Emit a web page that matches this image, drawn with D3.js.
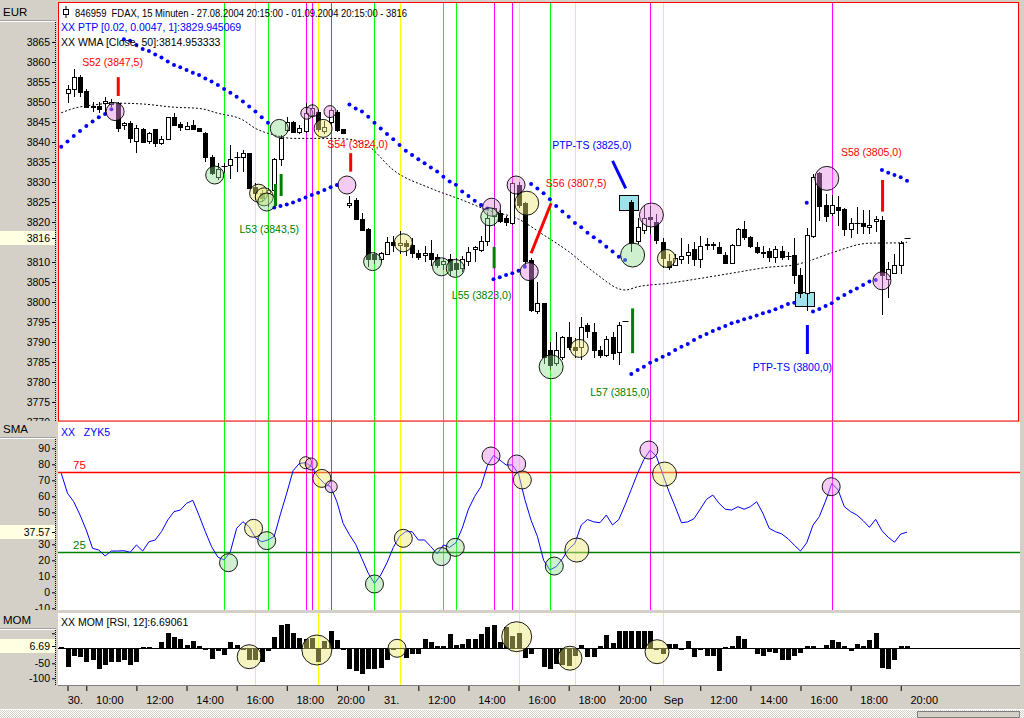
<!DOCTYPE html>
<html><head><meta charset="utf-8">
<script src="https://cdn.jsdelivr.net/npm/d3@7/dist/d3.min.js"></script>
<style>
html,body{margin:0;padding:0;background:#d4d0c8;overflow:hidden}
svg{display:block;font-family:"Liberation Sans",Arial,sans-serif;font-size:10.5px}
text{white-space:pre}
</style></head><body>
<svg id="chart" width="1024" height="718"></svg>
<script>
// ================= DATA =================
// 15-minute FDAX bars, index 0..134
const openP = [3852.2,3853.2,3856.2,3852.75,3849,3849,3849.7,3849.5,3849.7,3844.2,
3844.7,3840.25,3843.25,3840.1,3843.2,3839.7,3840.7,3846.2,3844.4,3843.25,
3844.25,3843.4,3842.2,3836.3,3831.2,3833.8,3834.25,3836,3836.2,3837.2,
3828.8,3827.2,3827.2,3828,3835.8,3843,3845.1,3842.3,3842.6,3846.75,
3847.6,3842.75,3845.1,3847.6,3843.25,3824.1,3825.5,3820.75,3818.25,3812,
3810.7,3812.2,3815.1,3814.25,3814.8,3814.25,3812.3,3811.7,3812.3,3811.3,
3809.5,3810.7,3809.7,3808.4,3810.2,3813.2,3813,3815.1,3821.5,3822.2,
3821,3819.7,3829.25,3824.7,3810.5,3797.6,3799.7,3788,3784.7,3786.3,
3791.3,3788.8,3788.8,3794.2,3792.6,3788,3786.75,3791.2,3787.6,3795.25,
3825,3815.1,3818,3821.2,3820,3815,3810.25,3809.25,3810.7,3811.75,
3813.2,3810.7,3814.2,3814.5,3813.8,3811.75,3809.7,3814.25,3818.2,3816.3,
3813.8,3812.4,3812.8,3811.2,3812.8,3811.3,3811.75,3806.75,3802.2,3816.5,
3832.2,3824.25,3822.2,3823.8,3823.2,3818.2,3819.6,3819.7,3818.7,3820.2,
3820.5,3805.7,3807.2,3809.25,3816];
const highP = [3854.3,3858.2,3856.75,3853.2,3850,3850.1,3851.2,3850.7,3850.1,3845.1,
3845.3,3844.25,3843.4,3842.5,3843.25,3841.5,3846.2,3847.2,3845.1,3845.1,
3845.5,3843.6,3842.6,3836.75,3834.7,3834.7,3839.25,3837.6,3838,3837.3,
3829.7,3828,3828.4,3835.9,3841.75,3846.2,3845.3,3844.25,3849.7,3849.5,
3848,3845.2,3848.4,3848,3843.25,3826.5,3826,3822.2,3818.5,3812.5,
3812.5,3816.2,3816.5,3817.7,3815.5,3816,3813,3814,3815.5,3812,
3811,3812,3811,3811.5,3813.7,3814,3816.5,3822.5,3825.5,3823,
3821.5,3830,3830,3825,3811,3805,3799.7,3790,3792.5,3791.5,
3795.1,3791,3796.2,3794.8,3794.8,3789,3791.5,3792.5,3795,3795.25,
3825.5,3821,3824,3824,3822,3816,3812,3812,3816,3814.5,
3815,3816.5,3816,3815,3815,3812.5,3814.6,3818.5,3820.2,3816.5,
3815,3814,3813.5,3814,3814,3812.5,3816,3808.6,3818.6,3832,
3832.5,3827,3826.7,3826.5,3823.5,3821,3823.7,3823,3823,3821.5,
3821.5,3810,3812,3815.2,3816];
const lowP = [3849.7,3851.3,3851.2,3848.6,3847.5,3847.2,3847.2,3848.8,3842.6,3843,
3839.7,3837.2,3839.7,3839.5,3838.7,3839.25,3840.5,3844.1,3842.8,3843,
3843,3842.5,3835.1,3831.75,3830.5,3832.2,3830.7,3832.6,3832.6,3828.2,
3825.5,3825,3823.8,3826.3,3834,3842.6,3842.3,3842,3842.3,3846,
3842.6,3842,3844.5,3842.6,3842.3,3823.5,3820.5,3817.8,3808.8,3809.5,
3810,3812,3812.5,3812,3811.5,3811,3810.5,3810,3809,3808.5,
3808,3806.5,3806.5,3807.5,3809,3810,3812.5,3814,3819,3819.7,
3819,3819.2,3823.5,3809,3797.5,3797,3784.5,3783,3784,3785.5,
3788,3786,3785.5,3791,3786,3786,3786.3,3785.5,3784.25,3795.25,
3812.5,3814.5,3817,3817,3814.5,3808.5,3808,3809,3809.5,3809.5,
3809,3808.5,3813,3813,3812,3809.5,3809.5,3814,3815.5,3813.5,
3812,3811,3810,3809.7,3810.5,3810.5,3804.5,3801,3797.8,3816,
3820.2,3820,3821.5,3819,3816.5,3816,3817,3817,3817,3817.5,
3796.7,3801,3807,3807,3816];
const closeP = [3853.2,3856.3,3852.4,3848.7,3848.7,3848.2,3850.3,3850.1,3843.4,3844.8,
3840.9,3843.6,3840.1,3842.2,3839.7,3840.7,3846.2,3844.25,3843.6,3844.1,
3843.25,3842.75,3836.3,3832.2,3833.2,3833.9,3835.75,3836.2,3837.2,3828.4,
3827.2,3825.9,3828,3835.7,3841.1,3845.1,3842.6,3843.4,3847.2,3848.4,
3843.4,3843.8,3848,3843,3842.3,3824.7,3820.7,3818,3810.7,3810.7,
3812.2,3815.1,3814.25,3814.8,3814,3812.2,3811.2,3812.2,3810.9,3809.25,
3810.3,3808,3808.2,3810.7,3812.5,3813.7,3815.3,3820.9,3823.4,3820.1,
3820.1,3829.7,3824.25,3810.1,3798,3799.7,3786.3,3784.25,3788,3791.3,
3788.8,3788,3793.8,3792.6,3788,3786.75,3790.7,3787.2,3794.25,3795.25,
3814.7,3818.7,3821,3820.7,3815.5,3811,3808.8,3810.9,3811.5,3812.6,
3810.7,3814,3814.5,3814.25,3812.3,3809.7,3814.25,3818.2,3816.2,3814,
3812.6,3812.2,3811.3,3813.2,3811.2,3811.4,3806.75,3802.2,3816.75,3831.3,
3824,3821.5,3824.25,3823,3818.2,3819.7,3819.7,3819,3819.2,3820.7,
3806.75,3808.2,3809.25,3814.7,3816];

// PTP stop dots: segments (first bar index, values)
const ptpStart = [-1, 9, 33, 45, 68, 74, 90, 118, 119, 130];
const ptpValues = [
 [3838.8,3840.1,3841.5,3842.75,3844,3845.1,3846.2,3847,3848.2],
 [3865.7,3865.3,3864.25,3863.25,3862.75,3861.9,3861.1,3860.1,3859.25,3858.7,3858,3857.3,3856.75,3855.9,3855.1,3854.25,3853.25,3852.3,3851.3,3850.1,3848.9,3847.6,3846.2,3844.8],
 [3823.6,3824,3824.4,3824.9,3825.5,3826.1,3826.75,3827.3,3828,3828.7,3829.25],
 [3849.4,3848.4,3847.6,3846.3,3844.8,3843.4,3842,3840.7,3839.25,3837.8,3836.75,3835.7,3834.7,3833.6,3832.6,3831.3,3830.1,3829.3,3827.6,3826.5,3825.3,3824.25,3823.4],
 [3805.7,3806.2,3806.75,3807.2,3807.8,3808.8],
 [3829.5,3828.4,3827.2,3825.7,3824,3822.6,3821.3,3819.75,3818.7,3817.3,3816.2,3815.1,3813.8,3812.6,3811.3,3810.5],
 [3782,3783,3783.8,3784.8,3785.5,3786.3,3787,3788,3788.8,3789.5,3790.5,3791.3,3792,3792.75,3793.4,3794,3794.7,3795.1,3795.7,3796.1,3796.6,3797.2,3797.6,3798.2,3798.8,3799.5,3799.8],
 [3824.8],
 [3797.6,3798.25,3799,3799.7,3800.9,3801.75,3802.6,3803.4,3804.25,3805.1,3805.5],
 [3833,3832.3,3831.75,3831.2,3830.3]
];

// WMA(50) read at bar indices
const wmaIdx = [-1,1,4,8,12,17,21,24,28,30,33,36,41,45,48,52,58,63,67,72,76,80,84,89,91,96,101,106,112,116,118,122,128,133,134];
const wmaVal = [3847.3,3848.4,3849.25,3849.7,3849.5,3848.7,3848.4,3847.2,3845.5,3843.4,3841.75,3840.9,3840.9,3840.7,3839,3833,3828.4,3825.5,3823,3820.7,3816.75,3812.6,3807.5,3803,3803.8,3804.7,3805.9,3807.2,3808.7,3809.25,3810.1,3812.3,3814.7,3814.8,3814.95];

// SMA / ZYK5 oscillator, bars -1..134
const smaFirst = -1;
const smaVal = [74.4,61.9,56.6,48.3,38.9,27.5,26.4,22.7,25.8,25.8,
26,25,29.6,25.8,31.6,32.7,37.9,45.2,50.4,51.4,
55.6,57.5,48,37.9,28.5,22,20.2,25.4,40,44.1,
41,34,31.6,32.7,35,49,62,76,80.5,81,
78.5,72,68,66,56.6,43,36,30,21,12,
5.6,10.8,18.5,28,35,37.9,37.9,32.7,32.7,28.5,
24,29.6,28.1,31,40,52,60,66,79,85.5,
82.7,79.6,79.6,74,58,45,35,20,14,16,
21,27,30.6,42,45.5,44,43.5,48.3,42.1,45.5,
54.6,64.4,74.4,83,88.9,85,74,63,53.5,43.5,
44,46,52,58.1,60.8,55.6,51.9,51.4,53.5,51.9,
53.5,56.6,49.4,40,37.9,36.5,33.5,29.5,25.8,31,
42,47.3,57,68.1,64,53.5,50.4,48.3,44.8,40.6,
45.6,38.5,34.4,31.3,36.4,37.57];
const smaLevels = [75, 25];

// MOM [RSI,12] histogram, bars -1..134
const momFirst = -1;
const momVal = [4,-63,-26,-31,-45,-39,-70,-58,-45,-45,
-39,-56,-48,4,4,0,20,50,37,31,
11,25,8,-8,-37,-11,-22,20,11,-8,
-39,-39,-47,-9,37,78,81,50,33,30,
33,-45,25,58,28,-8,-70,-78,-86,-70,
-70,-67,-41,-6,0,-33,-20,-20,31,20,
9,9,48,11,13,31,31,47,72,78,
22,70,40,52,-33,-20,-4,-63,-70,-53,
-56,-61,-28,11,-31,-31,9,44,19,59,
59,59,58,58,58,-6,-20,13,14,-8,
24,-31,-8,-28,-28,-75,3,8,41,31,
-2,-19,-28,-14,-17,-41,-41,-28,-17,9,
9,0,11,28,20,8,-11,13,8,28,
50,-65,-69,-39,8,6.69];

// vertical marker lines (bar index, kind g=green y=yellow m=magenta)
const vlIdx = [25,30,32,38,39,40,42,49,53,60,62,68,71,72,77,81,93,95,122];
const vlKind = ["g","y","g","m","m","y","m","g","y","g","g","m","m","y","g","y","m","y","m"];

// trading signals: line from (i1,p1) to (i2,p2); type S=short, L=long, P=PTP-TS
const sigI1 = [8.1,33.2,34.1,45.2,68.1,74,87,90.2,118.1,130.1];
const sigP1 = [3856.2,3829.5,3832,3837.2,3813.8,3812.2,3835.3,3798.4,3794.25,3830.5];
const sigI2 = [8.1,33.2,34.1,45.2,68.1,77.2,89.1,90.2,118.1,130.1];
const sigP2 = [3851.5,3824,3826.5,3832.6,3808.4,3824.7,3828.4,3787.2,3787,3822.6];
const sigType = ["S","L","L","S","L","S","P","L","P","S"];

const lblText = ["S52 (3847,5)","L53 (3843,5)","S54 (3824,0)","L55 (3823,0)","S56 (3807,5)","PTP-TS (3825,0)","L57 (3815,0)","PTP-TS (3800,0)","S58 (3805,0)"];
const lblI = [7.2,32.2,46.3,66.1,81.2,83.7,88.2,115.7,128.3];
const lblP = [3860,3818.25,3839.5,3801.75,3829.75,3839.25,3777.5,3783.75,3837.5];
const lblType = ["S","L","S","L","S","P","L","P","S"];

// PTP-TS boxes (center bar, top price, bottom price)
const boxI = [89.6, 117.6];
const boxTop = [3826.75, 3802.4];
const boxBot = [3823, 3798.8];

// marker circles
const circMainIdx = [7.6,23.5,30.5,31.4,31.8,33.8,38.2,39.1,41.9,40.8,44.6,48.7,53.6,59.7,61.9,67.7,67.4,71.6,73.3,73.7,77.2,81.7,90.2,93.2,95.6,121.2,130];
const circMainVal = [3847.6,3831.75,3827.2,3826.3,3825,3843.4,3847.2,3847.8,3847.6,3843.4,3829.25,3810.1,3814.8,3808.8,3808.4,3823.7,3821.3,3829.25,3824.7,3807.6,3783.8,3788.4,3811.75,3821.75,3810.9,3830.9,3805.3];
const circMainKind = ["pink-m","green-m","yellow-m","yellow-m","green-m","green-m","pink-s","pink-s","pink-s","yellow-m","pink-m","green-m","yellow-m","green-m","green-m","pink-m","green-m","pink-m","yellow-l","pink-m","green-l","yellow-m","green-l","pink-l","yellow-m","pink-l","pink-m"];
const circSmaIdx = [25.7,29.7,31.8,38,38.9,40.6,42.1,49,53.6,59.7,61.9,67.6,71.7,72.6,77.7,81.3,92.8,95.3,121.9];
const circSmaVal = [18.5,40,32.3,81,80.2,71.2,66,5.2,33.75,22.3,28.1,85.2,80.2,70.2,16.4,26.4,88.9,73.9,66];
const circSmaKind = ["green-m","yellow-m","green-m","yellow-s","pink-s","yellow-m","pink-s","green-m","yellow-m","green-m","green-m","pink-m","pink-m","yellow-m","green-m","yellow-l","pink-m","yellow-l","pink-m"];
const circMomIdx = [29,39.8,52.6,71.7,80.2,94.1];
const circMomVal = [-28,-5.7,0,38.7,-33,-11.3];
const circMomKind = ["yellow-l","yellow-xl","yellow-m","yellow-xl","yellow-l","yellow-l"];

// axis ticks
const priceTicks = [3770,3775,3780,3785,3790,3795,3800,3805,3810,3815,3820,3825,3830,3835,3840,3845,3850,3855,3860,3865];
const smaTicks = [-10,0,10,20,30,40,50,60,70,80,90];
const momTicks = [50,0,-50,-100];
const xTickIdx = [0,3,11,19,27,35,43,48,56,64,72,80,88,93,101,109,117,125,133];
const xTickLbl = ["30.","10:00","12:00","14:00","16:00","18:00","20:00","31.","12:00","14:00","16:00","18:00","20:00","Sep","12:00","14:00","16:00","18:00","20:00"];
const lastPrice = 3816, lastSma = 37.57, lastMom = 6.69;

// ================= DRAW =================
const svg = d3.select("#chart");
const GRAY = "#d4d0c8";
const L = 58, R = 1020;
svg.append("rect").attr("width",1024).attr("height",718).attr("fill",GRAY);

const x = d3.scaleLinear().domain([0,134]).range([67.5, 907.0]);
const step = x(1) - x(0);
const yP = d3.scaleLinear().domain([3775,3865]).range([402,42]);
const yS = d3.scaleLinear().domain([0,90]).range([592.3,448.3]);
const yM = d3.scaleLinear().domain([-100,0]).range([678.3,648.3]);
const px = v => Math.round(v) + 0.5;

const defs = svg.append("defs");
function clip(id,x0,y0,w,h){defs.append("clipPath").attr("id",id).append("rect").attr("x",x0).attr("y",y0).attr("width",w).attr("height",h);}
clip("cMain",59,3,960,418);
clip("cSma",L,422,R-L,188);
clip("cMom",L,613,R-L,72);
clip("cAxMain",0,22,57,399);
clip("cAxSma",0,439,57,171);
clip("cAxMom",0,629,57,56);

// hatch pattern for scrollbar
const pat = defs.append("pattern").attr("id","hatch").attr("width",2).attr("height",2).attr("patternUnits","userSpaceOnUse");
pat.append("rect").attr("width",2).attr("height",2).attr("fill","#ffffff");
pat.append("rect").attr("width",1).attr("height",1).attr("fill",GRAY);
pat.append("rect").attr("x",1).attr("y",1).attr("width",1).attr("height",1).attr("fill",GRAY);

// panel backgrounds
svg.append("rect").attr("x",L).attr("y",2).attr("width",R-1-L).attr("height",419).attr("fill","#fff");
svg.append("rect").attr("x",L).attr("y",422).attr("width",R-L).attr("height",188).attr("fill","#fff");
svg.append("rect").attr("x",L).attr("y",613).attr("width",R-L).attr("height",72).attr("fill","#fff");
svg.append("line").attr("x1",L).attr("x2",R).attr("y1",685.5).attr("y2",685.5).attr("stroke","#808080");

// left header cells
function cell(y0,h,label){
  svg.append("rect").attr("x",0).attr("y",y0).attr("width",56).attr("height",h).attr("fill",GRAY);
  svg.append("line").attr("x1",0).attr("x2",56).attr("y1",y0+h-0.5).attr("y2",y0+h-0.5).attr("stroke","#a0a0a0");
  svg.append("line").attr("x1",0).attr("x2",56).attr("y1",y0+h+0.5).attr("y2",y0+h+0.5).attr("stroke","#fff");
  svg.append("text").attr("x",3).attr("y",y0+h-5).attr("fill","#000").attr("font-size","11.5px").text(label);
}
cell(0,21,"EUR"); cell(421,17,"SMA"); cell(612,17,"MOM");

// dotted axis lines
[[22,421],[439,610],[630,685]].forEach(([a,b])=>{
  svg.append("line").attr("x1",55.5).attr("x2",55.5).attr("y1",a).attr("y2",b).attr("stroke","#000").attr("stroke-dasharray","1,1");
});

// vertical marker lines
const vlColor = {g:"#00ff00", y:"#ffff00", m:"#ff00ff"};
const vl = vlIdx.map((d,k)=>({i:d,k:vlKind[k]}));
[["cMain",2,421,()=>true],["cSma",422,610,()=>true],["cMom",613,685,d=>d.k==="y"]].forEach(([cid,a,b,f])=>{
  svg.append("g").attr("clip-path",`url(#${cid})`).selectAll("line").data(vl.filter(f)).join("line")
    .attr("x1",d=>px(x(d.i))).attr("x2",d=>px(x(d.i))).attr("y1",a).attr("y2",b)
    .attr("stroke",d=>vlColor[d.k]).attr("stroke-width",1);
});

// ---- main panel ----
const gMain = svg.append("g").attr("clip-path","url(#cMain)");

// WMA dashed
const wma = wmaIdx.map((d,k)=>({i:d,v:wmaVal[k]}));
gMain.append("path").datum(wma)
  .attr("d",d3.line().x(d=>x(d.i)).y(d=>yP(d.v)).curve(d3.curveMonotoneX))
  .attr("fill","none").attr("stroke","#000").attr("stroke-width",1).attr("stroke-dasharray","2,2");

// PTP-TS boxes
gMain.selectAll("rect.box").data(boxI.map((d,k)=>({i:d,t:boxTop[k],b:boxBot[k]}))).join("rect")
  .attr("x",d=>px(x(d.i-1.5))).attr("width",d=>Math.round(x(d.i+1.5)-x(d.i-1.5)))
  .attr("y",d=>px(yP(d.t))).attr("height",d=>Math.round(yP(d.b)-yP(d.t)))
  .attr("fill","#9fe3ea").attr("stroke","#000");

// candles
const bars = openP.map((o,i)=>({i,o,h:highP[i],l:lowP[i],c:closeP[i]}));
gMain.selectAll("line.wick").data(bars.filter(d=>d.h!==d.l)).join("line")
  .attr("x1",d=>px(x(d.i))).attr("x2",d=>px(x(d.i)))
  .attr("y1",d=>Math.round(yP(d.h))).attr("y2",d=>Math.round(yP(d.l)))
  .attr("stroke","#000");
gMain.selectAll("rect.body").data(bars.filter(d=>Math.abs(d.o-d.c)>=0.2)).join("rect")
  .attr("x",d=>Math.round(x(d.i))-2+0.5).attr("width",4)
  .attr("y",d=>px(yP(Math.max(d.o,d.c))))
  .attr("height",d=>Math.max(1,Math.round(yP(Math.min(d.o,d.c))-yP(Math.max(d.o,d.c)))))
  .attr("fill",d=>d.c>d.o?"#fff":"#000").attr("stroke","#000");
gMain.selectAll("line.doji").data(bars.filter(d=>Math.abs(d.o-d.c)<0.2)).join("line")
  .attr("x1",d=>Math.round(x(d.i))-2.5).attr("x2",d=>Math.round(x(d.i))+3.5)
  .attr("y1",d=>px(yP(d.c))).attr("y2",d=>px(yP(d.c))).attr("stroke","#000");

// PTP dots
const ptp = [];
ptpStart.forEach((s,k)=>ptpValues[k].forEach((v,j)=>ptp.push({i:s+j,v})));
gMain.selectAll("circle.ptp").data(ptp).join("circle")
  .attr("cx",d=>x(d.i)).attr("cy",d=>yP(d.v)).attr("r",2).attr("fill","#0000ff");

// circles helper
const circColor = {pink:"rgba(228,140,228,0.45)", green:"rgba(140,220,140,0.42)", yellow:"rgba(236,232,120,0.45)"};
const circR = {s:6,m:9,l:12,xl:15};
function drawCircles(g, idx, val, kind, yScale){
  g.selectAll(null).data(idx.map((d,k)=>({i:d,v:val[k],c:kind[k].split("-")[0],s:kind[k].split("-")[1]}))).join("circle")
    .attr("cx",d=>x(d.i)).attr("cy",d=>yScale(d.v)).attr("r",d=>circR[d.s])
    .attr("fill",d=>circColor[d.c]).attr("stroke","#000").attr("stroke-width",0.9);
}
drawCircles(gMain, circMainIdx, circMainVal, circMainKind, yP);

// signals
const sigColor = {S:"#ff0000", L:"#008000", P:"#0000ff"};
gMain.selectAll("line.sig").data(sigI1.map((d,k)=>({i1:d,p1:sigP1[k],i2:sigI2[k],p2:sigP2[k],t:sigType[k]}))).join("line")
  .attr("x1",d=>x(d.i1)).attr("y1",d=>yP(d.p1)).attr("x2",d=>x(d.i2)).attr("y2",d=>yP(d.p2))
  .attr("stroke",d=>sigColor[d.t]).attr("stroke-width",3);

// signal labels
gMain.selectAll("text.lbl").data(lblText.map((t,k)=>({t,i:lblI[k],p:lblP[k],k:lblType[k]}))).join("text")
  .attr("x",d=>x(d.i)).attr("y",d=>yP(d.p)+4).attr("text-anchor","middle")
  .attr("fill",d=>sigColor[d.k]).text(d=>d.t);

// main border
svg.append("rect").attr("x",58.5).attr("y",2.5).attr("width",960).attr("height",418.5)
  .attr("fill","none").attr("stroke","#ff0000");

// header texts
svg.append("rect").attr("x",63.5).attr("y",9.5).attr("width",5).attr("height",5).attr("fill","none").attr("stroke","#000");
svg.append("line").attr("x1",66).attr("x2",66).attr("y1",6).attr("y2",9).attr("stroke","#000");
svg.append("line").attr("x1",66).attr("x2",66).attr("y1",15).attr("y2",18).attr("stroke","#000");
svg.append("text").attr("x",75).attr("y",16.5).attr("fill","#000")
  .attr("textLength",332).attr("lengthAdjust","spacingAndGlyphs")
  .text("846959  FDAX, 15 Minuten - 27.08.2004 20:15:00 - 01.09.2004 20:15:00 - 3816");
svg.append("text").attr("x",61).attr("y",31).attr("fill","#0000ff").text("XX PTP [0.02, 0.0047, 1]:3829.945069");
svg.append("text").attr("x",61).attr("y",46).attr("fill","#000").text("XX WMA [Close, 50]:3814.953333");

// ---- SMA panel ----
const gSma = svg.append("g").attr("clip-path","url(#cSma)");
const lvlColor = ["#ff0000","#008000"];
smaLevels.forEach((lv,k)=>{
  gSma.append("line").attr("x1",L).attr("x2",R).attr("y1",px(yS(lv))).attr("y2",px(yS(lv))).attr("stroke",lvlColor[k]).attr("stroke-width",1.3);
  gSma.append("text").attr("x",73).attr("y",yS(lv)-3).attr("fill",lvlColor[k]).attr("font-size","11.5px").text(String(lv));
});
const sma = smaVal.map((v,k)=>({i:smaFirst+k,v}));
gSma.append("path").datum(sma).attr("d",d3.line().x(d=>x(d.i)).y(d=>yS(d.v)))
  .attr("fill","none").attr("stroke","#0000ff").attr("stroke-width",1);
drawCircles(gSma, circSmaIdx, circSmaVal, circSmaKind, yS);
svg.append("text").attr("x",61).attr("y",436).attr("fill","#0000ff").text("XX   ZYK5");

// ---- MOM panel ----
const gMom = svg.append("g").attr("clip-path","url(#cMom)");
gMom.append("line").attr("x1",L).attr("x2",R).attr("y1",px(yM(0))).attr("y2",px(yM(0))).attr("stroke","#000");
const mom = momVal.map((v,k)=>({i:momFirst+k,v}));
gMom.selectAll("rect.mom").data(mom).join("rect")
  .attr("x",d=>Math.round(x(d.i))-2).attr("width",5)
  .attr("y",d=>Math.round(yM(Math.max(0,d.v)))).attr("height",d=>Math.max(1,Math.round(Math.abs(yM(d.v)-yM(0)))))
  .attr("fill","#000");
drawCircles(gMom, circMomIdx, circMomVal, circMomKind, yM);
svg.append("text").attr("x",61).attr("y",626).attr("fill","#000").text("XX MOM [RSI, 12]:6.69061");

// ---- Y axes (labels hidden where the last-value box covers them) ----
function yAxis(scale, ticks, lastV, hideTop, cid){
  const yl = scale(lastV);
  const fmt = d => (Math.abs(scale(d)-yl) < 9 || d===hideTop) ? "" : String(d);
  const g = svg.append("g").attr("clip-path",`url(#${cid})`).append("g").attr("transform","translate(55,0)")
    .call(d3.axisLeft(scale).tickValues(ticks).tickSize(3).tickSizeOuter(0).tickPadding(2).tickFormat(fmt));
  g.attr("font-size",null).attr("font-family",null);
  g.select(".domain").remove();
  g.selectAll(".tick line").attr("stroke","#000");
  g.selectAll(".tick text").attr("fill","#000");
}
yAxis(yP, priceTicks, lastPrice, null, "cAxMain");
yAxis(yS, smaTicks, lastSma, null, "cAxSma");
yAxis(yM, momTicks, lastMom, 50, "cAxMom");

// last-value highlight boxes
[[yP,lastPrice,"3816"],[yS,lastSma,"37.57"],[yM,lastMom,"6.69"]].forEach(([s,v,t])=>{
  const yy = Math.round(s(v));
  svg.append("rect").attr("x",0).attr("y",yy-7).attr("width",55).attr("height",14).attr("fill","#ffffe1");
  svg.append("text").attr("x",50).attr("y",yy+4).attr("text-anchor","end").attr("fill","#000").text(t);
  svg.append("line").attr("x1",52).attr("x2",55).attr("y1",yy+0.5).attr("y2",yy+0.5).attr("stroke","#000");
});

// ---- X axis ----
const gx = svg.append("g").attr("transform","translate(0,686)")
  .call(d3.axisBottom(x).tickValues(xTickIdx).tickSize(5).tickSizeOuter(0).tickPadding(5).tickFormat((d,k)=>xTickLbl[k]));
gx.attr("font-size",null).attr("font-family",null);
gx.select(".domain").remove();
gx.selectAll(".tick line").attr("stroke","#000");
gx.selectAll(".tick text").attr("fill","#000").attr("font-size","11px")
  .attr("x",(d,k)=>{const n=xTickIdx[k+1]; const gap = n===undefined?Infinity:(n-d)*step; return Math.min(23, gap/2-2);});

// scrollbar strip
svg.append("line").attr("x1",0).attr("x2",1024).attr("y1",709.5).attr("y2",709.5).attr("stroke","#fff");
svg.append("rect").attr("x",0).attr("y",710).attr("width",1024).attr("height",8).attr("fill","url(#hatch)");
svg.append("rect").attr("x",917.5).attr("y",711.5).attr("width",102).attr("height",6).attr("fill",GRAY).attr("stroke","#808080");
</script></body></html>
